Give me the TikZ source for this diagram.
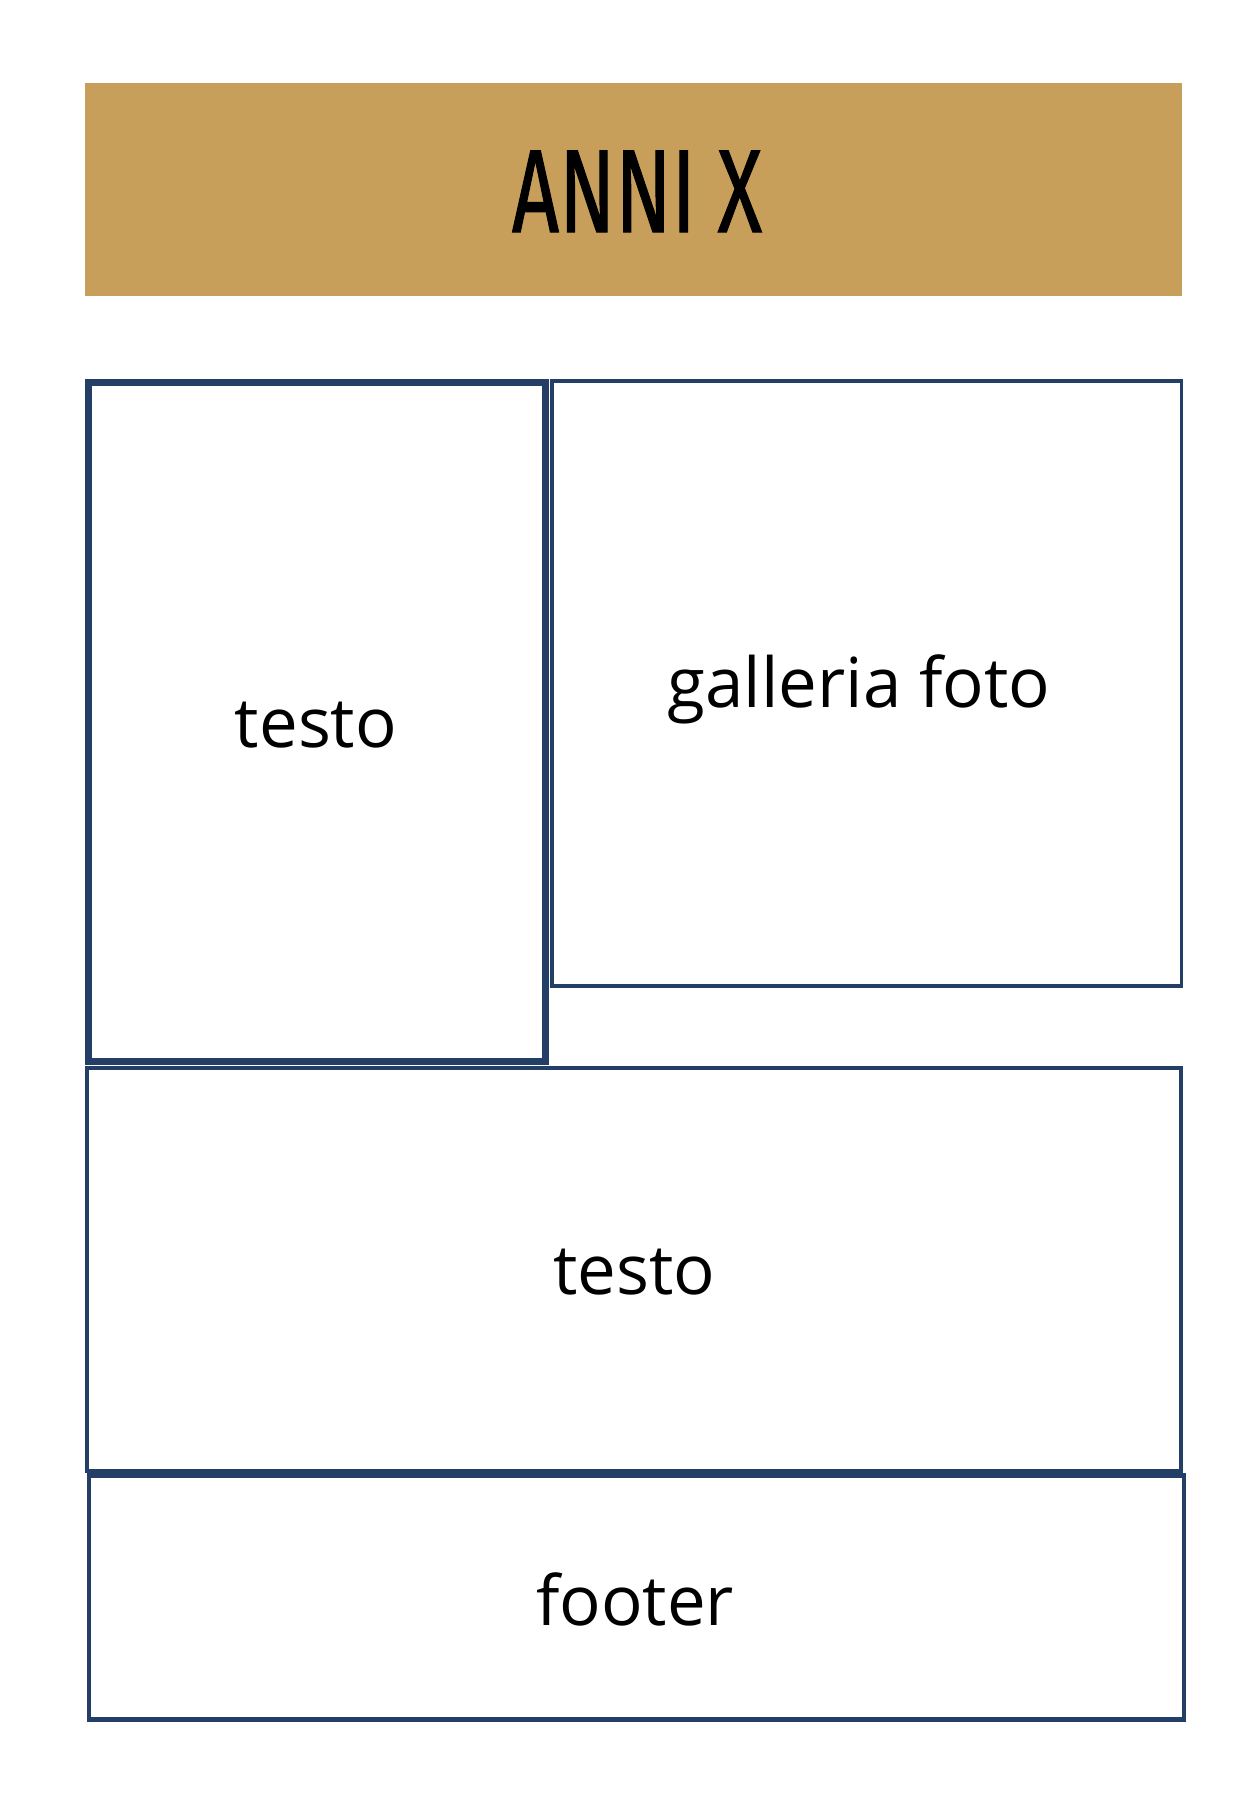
\documentclass[tikz,border=0pt]{standalone}
\usepackage{fontspec}
\newfontfamily\bodyfont{Open Sans}
\newfontfamily\titlefont[FakeBold=1.2]{Fira Sans}
\definecolor{gold}{RGB}{199,159,91}
\definecolor{navy}{RGB}{36,63,103}
\begin{document}
\begin{tikzpicture}[x=1pt,y=-1pt,
  panel/.style={draw=navy,fill=none,inner sep=0pt,outer sep=0pt},
  lbl/.style={font=\bodyfont\fontsize{69}{75}\selectfont,anchor=base,inner sep=0pt}]
\useasboundingbox (0,0) rectangle (1260,1794);
\fill[white] (0,0) rectangle (1260,1794);
% header
\node[fill=gold,inner sep=0pt,minimum width=1097pt,minimum height=213pt] (header) at (633.5,189.5) {};
\node[anchor=base,inner sep=0pt] (title) at (637,232) {\resizebox{250pt}{81pt}{\titlefont ANNI X}};
% panels
\node[panel,line width=7pt,minimum width=457pt,minimum height=679pt] (testoA) at (317,722) {};
\node[panel,line width=3.5pt,minimum width=629.5pt,minimum height=605pt] (galleria) at (866.75,683.5) {};
\node[panel,line width=4pt,minimum width=1094pt,minimum height=403pt] (testoB) at (634,1269.5) {};
\node[panel,line width=4.5pt,minimum width=1095pt,minimum height=244pt] (footer) at (636.5,1597.5) {};
% labels
\node[lbl] (tA) at (316,747) {testo};
\node[lbl] (tG) at (859,707) {galleria foto};
\node[lbl] (tB) at (634.5,1294) {testo};
\node[lbl] (tF) at (635,1625) {footer};
\end{tikzpicture}
\end{document}
